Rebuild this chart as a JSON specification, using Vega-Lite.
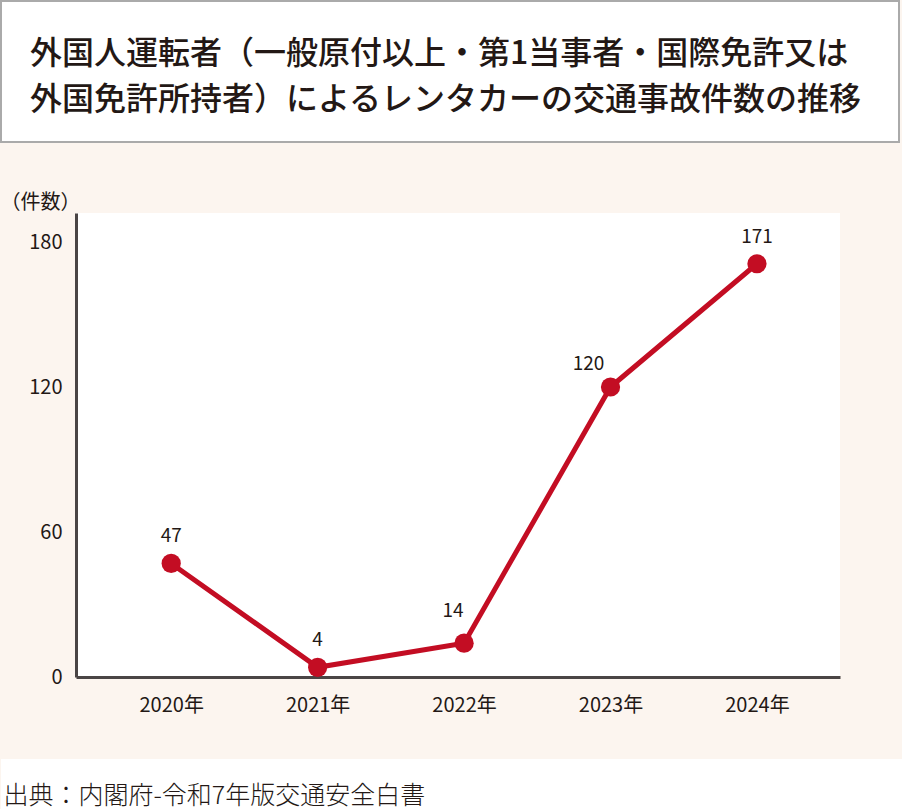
{
  "$schema": "https://vega.github.io/schema/vega-lite/v6.json",
  "padding": 0,
  "background": "#fcf5ef",
  "spacing": 49,
  "config": {
    "font": "Noto Sans CJK JP",
    "view": {"stroke": null},
    "text": {"color": "#231815"}
  },
  "vconcat": [
    {
      "width": 898,
      "height": 141,
      "view": {"stroke": "#aaaaaa", "strokeWidth": 2, "fill": "#ffffff"},
      "data": {"values": [{"title": "外国人運転者（一般原付以上・第1当事者・国際免許又は\n外国免許所持者）によるレンタカーの交通事故件数の推移"}]},
      "mark": {"type": "text", "lineBreak": "\n", "lineHeight": 46, "align": "left", "baseline": "middle", "fontSize": 32, "fontWeight": 500, "dx": -420, "dy": -18, "color": "#231815"},
      "encoding": {"text": {"field": "title", "type": "nominal"}}
    },
    {
      "spacing": 44,
      "vconcat": [
        {
          "bounds": "flush",
          "spacing": 0,
          "hconcat": [
            {
              "width": 75,
              "height": 464,
              "data": {"values": []},
              "mark": {"type": "rule"},
              "encoding": {}
            },
            {
              "width": 764,
              "height": 464,
              "view": {"fill": "#ffffff", "stroke": null},
              "data": {"values": [
                {"year": 2020, "count": 47},
                {"year": 2021, "count": 4},
                {"year": 2022, "count": 14},
                {"year": 2023, "count": 120},
                {"year": 2024, "count": 171}
              ]},
              "encoding": {
                "x": {"field": "year", "type": "quantitative",
                  "scale": {"domain": [2019.35, 2024.567], "nice": false, "zero": false},
                  "axis": {"values": [2020, 2021, 2022, 2023, 2024], "labelExpr": "datum.value + '年'", "title": null, "grid": false, "ticks": false,
                    "domainColor": "#4a4545", "domainWidth": 3, "labelFontSize": 20, "labelColor": "#231815", "labelPadding": 18, "labelFlush": false}},
                "y": {"field": "count", "type": "quantitative",
                  "scale": {"domain": [0, 192], "nice": false},
                  "axis": {"values": [0, 60, 120, 180], "grid": false, "ticks": false, "domainColor": "#4a4545", "domainWidth": 3,
                    "labelFontSize": 20, "labelColor": "#231815", "labelPadding": 14,
                    "title": "（件数）", "titleAngle": 0, "titleX": -76, "titleY": -1, "titleAlign": "left", "titleBaseline": "bottom",
                    "titleFontSize": 20, "titleFontWeight": "normal", "titleColor": "#231815"}}
              },
              "layer": [
                {"mark": {"type": "line", "color": "#c30d23", "strokeWidth": 5}},
                {"mark": {"type": "circle", "color": "#c30d23", "size": 370, "opacity": 1}},
                {"transform": [{"filter": "datum.year <= 2021 || datum.year == 2024"}],
                  "mark": {"type": "text", "fontSize": 19, "baseline": "alphabetic", "dy": -21},
                  "encoding": {"text": {"field": "count", "type": "quantitative"}}},
                {"transform": [{"filter": "datum.year == 2022"}],
                  "mark": {"type": "text", "fontSize": 19, "baseline": "alphabetic", "dx": -11, "dy": -26},
                  "encoding": {"text": {"field": "count", "type": "quantitative"}}},
                {"transform": [{"filter": "datum.year == 2023"}],
                  "mark": {"type": "text", "fontSize": 19, "baseline": "alphabetic", "dx": -22, "dy": -17},
                  "encoding": {"text": {"field": "count", "type": "quantitative"}}}
              ]
            }
          ]
        },
        {
          "width": 901,
          "height": 51,
          "view": {"fill": "#ffffff", "stroke": null},
          "data": {"values": [{"source": "出典：内閣府-令和7年版交通安全白書"}]},
          "mark": {"type": "text", "align": "left", "baseline": "middle", "fontSize": 25, "fontWeight": 300, "dx": -448, "dy": 11, "color": "#231815"},
          "encoding": {"text": {"field": "source", "type": "nominal"}}
        }
      ]
    }
  ]
}
